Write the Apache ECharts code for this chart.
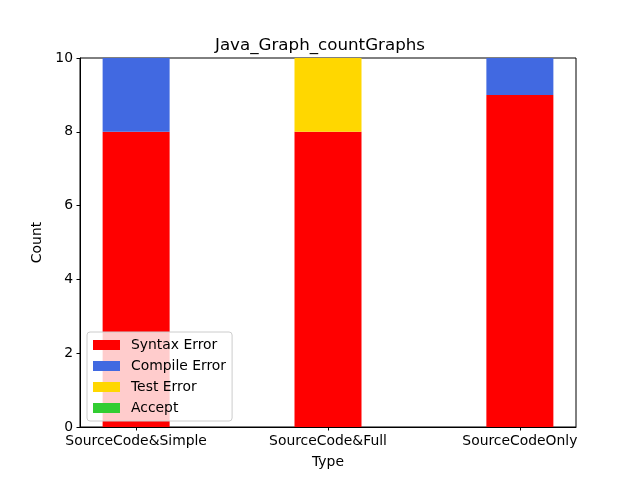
<!DOCTYPE html>
<html><head><meta charset="utf-8">
<script src="https://cdn.jsdelivr.net/npm/echarts@6/dist/echarts.min.js"></script>
<style>html,body{margin:0;padding:0;background:#fff}#c{width:640px;height:480px}</style>
</head><body><div id="c"></div>
<script>
const categories = ['SourceCode&Simple', 'SourceCode&Full', 'SourceCodeOnly'];
const syntaxError = [8, 8, 9];
const compileError = [2, 0, 1];
const testError = [0, 2, 0];
const accept = [0, 0, 0];
const yTicks = [0, 2, 4, 6, 8, 10];

const F = 'DejaVu Sans';
const chart = echarts.init(document.getElementById('c'), null, {renderer: 'canvas'});
// value first, position second, so the stack is computed on the value dimension
function pts(arr) { return arr.map((v, i) => [v, i]); }
function ser(name, data, color) {
  return {name, type: 'bar', stack: 's', data: pts(data), barWidth: 67,
    dimensions: ['val', 'pos'], encode: {x: 'pos', y: 'val'},
    itemStyle: {color}, emphasis: {disabled: true}, animation: false};
}
chart.setOption({
  animation: false,
  title: {text: 'Java_Graph_countGraphs', left: 'center', top: 32,
    textStyle: {fontFamily: F, fontSize: 16.7, fontWeight: 'normal', color: '#000'}},
  grid: {left: 80, right: 64, top: 58, bottom: 53, show: true, borderColor: '#000', borderWidth: 1, backgroundColor: 'transparent'},
  legend: {
    orient: 'vertical', left: 87, top: 332,
    data: ['Syntax Error', 'Compile Error', 'Test Error', 'Accept'],
    icon: 'rect', itemWidth: 27, itemHeight: 10, itemGap: 7,
    padding: [6, 6, 6, 6],
    backgroundColor: 'rgba(255,255,255,0.8)', borderColor: '#cccccc', borderWidth: 1, borderRadius: 3,
    textStyle: {fontFamily: F, fontSize: 13.9, color: '#000', lineHeight: 14, padding: [0, 0, 0, 6]},
    selectedMode: false, z: 10
  },
  xAxis: {
    type: 'value', min: -0.2925, max: 2.2925,
    name: 'Type', nameLocation: 'middle', nameGap: 28,
    nameTextStyle: {fontFamily: F, fontSize: 13.9, color: '#000'},
    axisLine: {show: true, onZero: false, lineStyle: {color: '#000', width: 1}},
    axisTick: {show: true, customValues: [0, 1, 2], length: 3.5, lineStyle: {color: '#000'}},
    axisLabel: {customValues: [0, 1, 2], formatter: v => categories[Math.round(v)], margin: 7,
      fontFamily: F, fontSize: 13.9, color: '#000'},
    splitLine: {show: false}
  },
  yAxis: {
    type: 'value', min: 0, max: 10, interval: 2,
    name: 'Count', nameLocation: 'middle', nameGap: 33, nameRotate: 90,
    nameTextStyle: {fontFamily: F, fontSize: 13.9, color: '#000'},
    axisLine: {show: true, onZero: false, lineStyle: {color: '#000', width: 1}},
    axisTick: {show: true, length: 3.5, lineStyle: {color: '#000'}},
    axisLabel: {formatter: v => yTicks.includes(v) ? String(v) : '', margin: 7,
      fontFamily: F, fontSize: 13.9, color: '#000'},
    splitLine: {show: false}
  },
  series: [
    ser('Syntax Error', syntaxError, '#ff0000'),
    ser('Compile Error', compileError, '#4169e1'),
    ser('Test Error', testError, '#ffd700'),
    ser('Accept', accept, '#32cd32')
  ]
});
</script></body></html>
